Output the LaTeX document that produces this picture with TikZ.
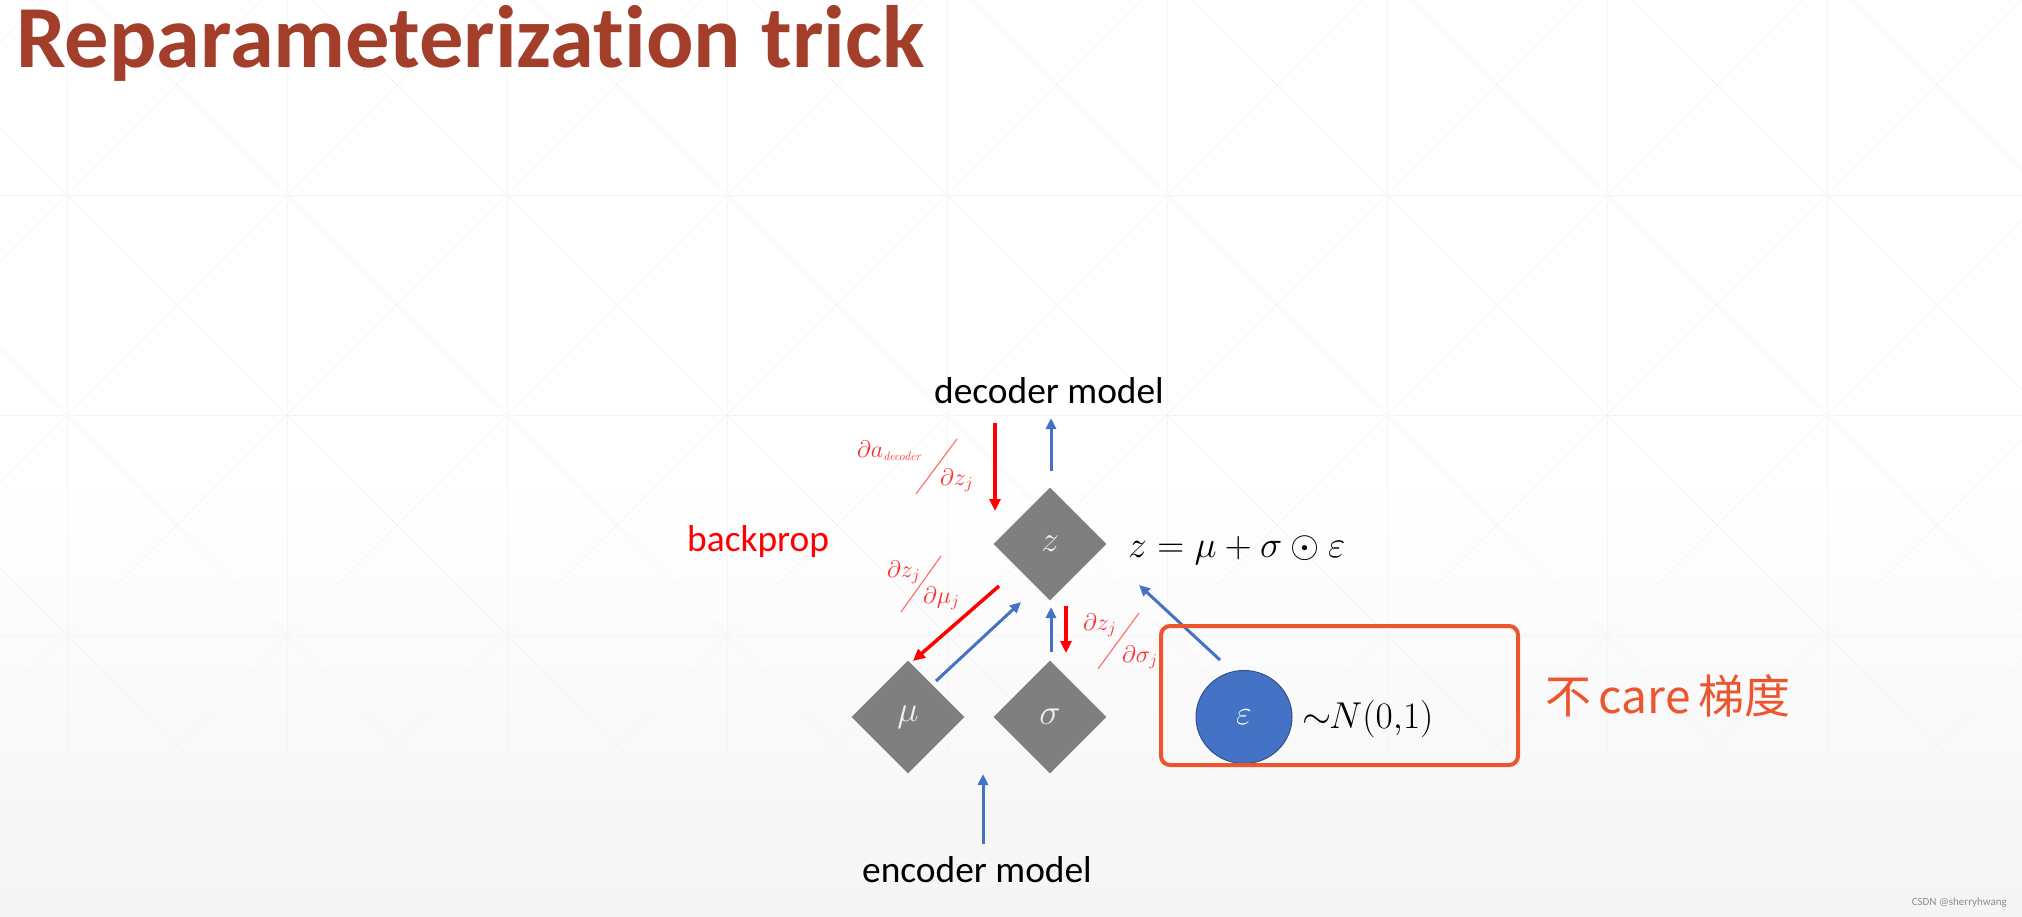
\RequirePackage{fix-cm}
\documentclass[tikz,border=0pt]{standalone}
\usepackage{amsmath}
\usepackage[no-math]{fontspec}
\setmainfont{Carlito}
\newfontfamily\titlefont[RawFeature=-liga]{Carlito}
\newfontfamily\cjkfont{Noto Sans CJK SC}
\usetikzlibrary{shapes.geometric, arrows.meta}

\definecolor{titlered}{RGB}{162,62,41}
\definecolor{fwdblue}{RGB}{68,114,196}
\definecolor{noiseline}{RGB}{47,82,143}
\definecolor{boxorange}{RGB}{236,85,45}
\definecolor{blockgray}{RGB}{127,127,127}
\definecolor{gradred}{RGB}{255,45,45}

\begin{document}
\begin{tikzpicture}[x=1pt, y=-1pt,
    grid/.style={black!4, line width=1pt},
    block/.style={diamond, fill=blockgray, inner sep=0pt, minimum size=113pt,
        text=white!88!gray, font=\fontsize{36}{40}\selectfont},
    noise/.style={ellipse, draw=noiseline, line width=1pt, fill=fwdblue, inner sep=0pt,
        minimum width=96pt, minimum height=93pt, text=white, font=\fontsize{34}{40}\selectfont},
    fwd/.style={draw=fwdblue, line width=3pt, -{Triangle[width=10pt,length=11pt]}},
    bwd/.style={draw=red, line width=3.5pt, -{Triangle[width=11pt,length=12pt]}},
    label/.style={inner sep=0pt, font=\fontsize{37.4}{45}\selectfont},
    grad/.style={inner sep=0pt, text=gradred, font=\fontsize{24}{28}\selectfont},
    slash/.style={red!55, line width=1.2pt}]

    % Background of the slide
    \useasboundingbox (0,0) rectangle (2022,916);
    \fill[white] (0,0) rectangle (2022,916);
    \shade[top color=white, bottom color=black!4] (0,470) rectangle (2022,916);
    \begin{scope}
        \clip (0,0) rectangle (2022,916);
        \foreach \gx in {67,287,...,1827} \draw[grid] (\gx,0) -- (\gx,916);
        \foreach \gy in {195,415,635,855} \draw[grid] (0,\gy) -- (2022,\gy);
        \foreach \gd in {-1228,-1008,...,2072} \draw[grid] (\gd,0) -- ++(1000,1000);
        \foreach \gd in {-178,42,...,3122} \draw[grid] (\gd,0) -- ++(-1000,1000);
    \end{scope}

    % Title
    \node[inner sep=0pt, anchor=base west, text=titlered,
        font=\fontsize{88.5}{100}\titlefont\bfseries] (title) at (16,67) {Reparameterization trick};

    % Define the blocks
    \node[block] (z) at (1050,544) {$z$};
    \node[block] (mu) at (908,717) {$\mu$};
    \node[block] (sigma) at (1050,717) {$\sigma$};
    \node[noise] (eps) at (1244,717) {$\varepsilon$};

    % Texts round the blocks
    \node[label, anchor=base] (decoder) at (1049,403) {decoder model};
    \node[label, anchor=base] (encoder) at (977,882) {encoder model};
    \node[label, anchor=base west, text=red] (backprop) at (687,551) {backprop};
    \node[label, anchor=base west] (zeq) at (1128,557) {$z=\mu+\sigma\odot\varepsilon$};
    \node[label, anchor=base west] (dist) at (1302,728) {$\sim\!\!N(0{,}1)$};
    \node[inner sep=0pt, anchor=base west, text=boxorange,
        font=\fontsize{46}{52}\cjkfont] (nocare) at (1545,713) {不\,care\,梯度};
    \node[inner sep=0pt, anchor=base east, text=black!45,
        font=\fontsize{11}{13}\selectfont] (mark) at (2007,905) {CSDN @sherryhwang};

    % Gradients
    \node[grad, anchor=base west] (ga) at (857,457) {$\partial a_{\scriptscriptstyle\mathit{decoder}}$};
    \node[grad, anchor=base west] (gb) at (940,485) {$\partial z_j$};
    \draw[slash] (957,439) -- (916,494);
    \node[grad, anchor=base west] (gc) at (887,577) {$\partial z_j$};
    \node[grad, anchor=base west] (gd) at (923,603) {$\partial \mu_j$};
    \draw[slash] (941,556) -- (901,612);
    \node[grad, anchor=base west] (ge) at (1083,630) {$\partial z_j$};
    \node[grad, anchor=base west] (gf) at (1122,662) {$\partial \sigma_j$};
    \draw[slash] (1139,613) -- (1098,669);

    % Arrow ends
    \coordinate (a1) at (995,423);  \coordinate (a2) at (995,511);
    \coordinate (b1) at (1051,471); \coordinate (b2) at (1051,418);
    \coordinate (a3) at (999,586);  \coordinate (a4) at (913,661);
    \coordinate (b3) at (936,681);  \coordinate (b4) at (1021,602);
    \coordinate (b5) at (1051,652); \coordinate (b6) at (1051,607);
    \coordinate (a5) at (1066,606); \coordinate (a6) at (1066,653);
    \coordinate (b7) at (1220,660); \coordinate (b8) at (1139,585);
    \coordinate (b9) at (983,844);  \coordinate (b10) at (983,774);

    % Forward and backward passes
    \draw[bwd] (a1) -- (a2);
    \draw[bwd] (a3) -- (a4);
    \draw[bwd] (a5) -- (a6);
    \draw[fwd] (b1) -- (b2);
    \draw[fwd] (b3) -- (b4);
    \draw[fwd] (b5) -- (b6);
    \draw[fwd] (b7) -- (b8);
    \draw[fwd] (b9) -- (b10);

    % Box round the noise
    \draw[boxorange, line width=4pt, rounded corners=9pt] (1161,626) rectangle (1518,765);

\end{tikzpicture}
\end{document}
